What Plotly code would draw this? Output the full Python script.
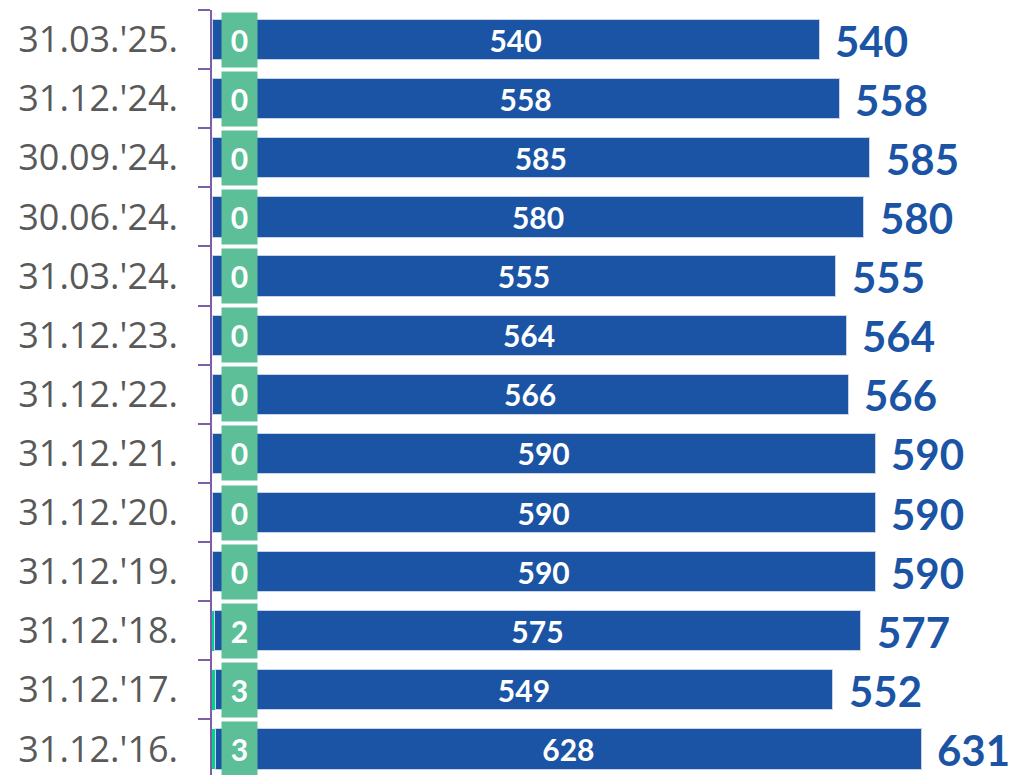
import plotly.graph_objects as go

categories = ["31.12.'16.", "31.12.'17.", "31.12.'18.", "31.12.'19.", "31.12.'20.",
              "31.12.'21.", "31.12.'22.", "31.12.'23.", "31.03.'24.", "30.06.'24.",
              "30.09.'24.", "31.12.'24.", "31.03.'25."]
green_vals = [3, 3, 2, 0, 0, 0, 0, 0, 0, 0, 0, 0, 0]
blue_vals = [628, 549, 575, 590, 590, 590, 566, 564, 555, 580, 585, 558, 540]
totals = [g + b for g, b in zip(green_vals, blue_vals)]

BLUE = "#1B54A4"
GREEN_BAR = "#00D48C"
GREEN_BOX = "#5CBF98"
AXIS = "#7D5FA8"
FONT = "Lato, 'Open Sans', sans-serif"
TICK_FONT = "'Open Sans', Lato, sans-serif"

fig = go.Figure()
fig.add_trace(go.Bar(
    y=categories, x=green_vals, orientation="h", width=0.68,
    marker=dict(color=GREEN_BAR, line=dict(width=0)),
    hoverinfo="skip", showlegend=False,
))
fig.add_trace(go.Bar(
    y=categories, x=blue_vals, orientation="h", width=0.68,
    marker=dict(color=BLUE, line=dict(color="#C9D3E6", width=1)),
    text=[str(v) for v in blue_vals], textposition="inside",
    insidetextanchor="middle", constraintext="none",
    textfont=dict(color="white", size=30, family=FONT, weight="bold"),
    hoverinfo="skip", showlegend=False,
))

annotations = []
for c, g, t in zip(categories, green_vals, totals):
    annotations.append(dict(
        x=0, y=c, xref="x", yref="y", xanchor="left", xshift=9,
        text="<b>%d</b>" % g, showarrow=False,
        font=dict(color="white", size=30, family=FONT),
        bgcolor=GREEN_BOX, width=35, height=54, borderpad=0,
    ))
    annotations.append(dict(
        x=t, y=c, xref="x", yref="y", xanchor="left", xshift=14, yshift=-1,
        text="<b>%d</b>" % t, showarrow=False,
        font=dict(color=BLUE, size=42, family=FONT),
    ))

fig.update_layout(
    width=1018, height=775,
    margin=dict(l=212, r=0, t=10, b=0, autoexpand=False),
    paper_bgcolor="white", plot_bgcolor="white",
    barmode="stack", bargap=0.32,
    annotations=annotations,
    xaxis=dict(range=[0, 717], visible=False, fixedrange=True, automargin=False),
    yaxis=dict(
        type="category", categoryorder="array", categoryarray=categories,
        range=[-0.44, 12.5], automargin=False, fixedrange=True,
        showline=True, linecolor=AXIS, linewidth=1.5,
        ticks="outside", tickson="boundaries", ticklen=12, tickcolor=AXIS, tickwidth=1.5,
        tickfont=dict(color="#595959", size=36, family=TICK_FONT),
        ticklabelstandoff=25,
        showgrid=False, zeroline=False,
    ),
)

fig.write_html("out.html", config={"displayModeBar": False},
               post_script="document.body.style.margin='0';document.body.style.overflow='hidden';")
